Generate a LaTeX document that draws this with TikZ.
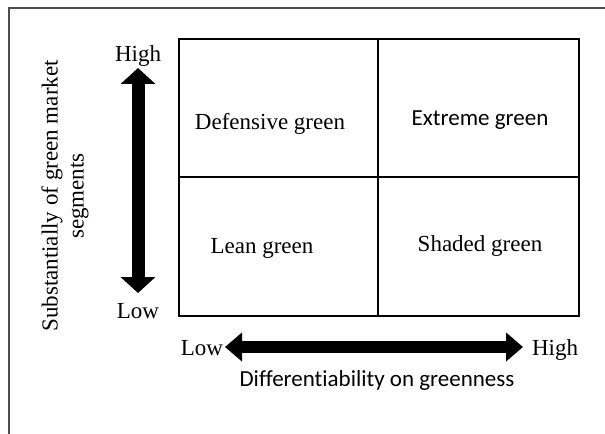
\documentclass[tikz,border=0pt]{standalone}
\usepackage{fontspec}
\setmainfont{Liberation Serif}
\newfontfamily\calibri[Ligatures=NoCommon]{Carlito}
\usetikzlibrary{arrows.meta}
\begin{document}
\begin{tikzpicture}[x=0.75pt,y=-0.75pt,
  lbl/.style={font=\fontsize{17.25}{19.5}\selectfont, inner sep=0pt},
  clbl/.style={font=\calibri\fontsize{17.25}{19.5}\selectfont, inner sep=0pt},
  frame/.style={draw=black!70, line width=1.5pt},
  gridout/.style={draw=black, line width=1.8pt},
  gridin/.style={draw=black, line width=1pt},
  varrow/.style={line width=13*0.75pt, {Triangle[width=34*0.75pt,length=16*0.75pt]}-{Triangle[width=34*0.75pt,length=16*0.75pt]}},
  harrow/.style={line width=12*0.75pt, {Triangle[width=28*0.75pt,length=17*0.75pt]}-{Triangle[width=28*0.75pt,length=17*0.75pt]}}
]
\useasboundingbox (0,0) rectangle (605,434);
% outer frame (extends beyond the picture at right and bottom)
\draw[frame] (9,440) -- (9,8) -- (612,8);
% grid
\draw[gridout] (179,39) rectangle (579,316);
\draw[gridin] (378,39) -- (378,316);
\draw[gridin] (179,177) -- (579,177);
% cell labels
\node[lbl, anchor=base] (def) at (270,130) {Defensive green};
\node[clbl, anchor=base] (ext) at (480,126) {Extreme green};
\node[lbl, anchor=base] (lean) at (262,253) {Lean green};
\node[lbl, anchor=base] (shd) at (480,251) {Shaded green};
% vertical axis
\node[lbl, anchor=base] (vhigh) at (138,62) {High};
\node[lbl, anchor=base] (vlow) at (138,318) {Low};
\coordinate (vtop) at (138,68);
\coordinate (vbot) at (138,293);
\draw[varrow] (vbot) -- (vtop);
\node[lbl, rotate=90, align=center] (vtitle) at (65,196) {Substantially of green market\\segments};
% horizontal axis
\node[lbl, anchor=base] (hlow) at (202,355) {Low};
\node[lbl, anchor=base] (hhigh) at (555,355) {High};
\coordinate (hleft) at (225,347);
\coordinate (hright) at (523,347);
\draw[harrow] (hleft) -- (hright);
\node[clbl, anchor=base] (htitle) at (377,386) {Differentiability on greenness};
\end{tikzpicture}
\end{document}
